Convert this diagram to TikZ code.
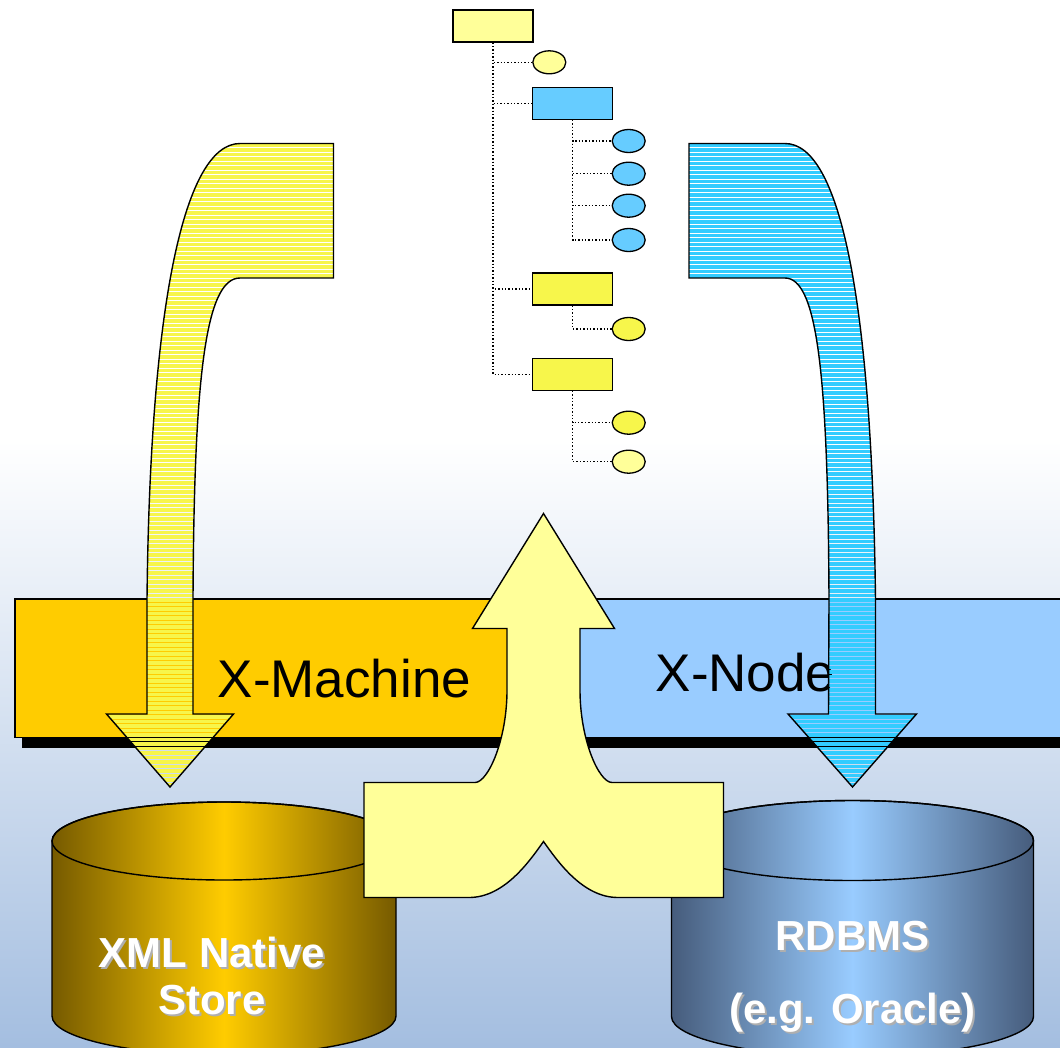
\documentclass[tikz,border=0pt]{standalone}
\usepackage{fontspec}
\setmainfont{Liberation Sans}
\usetikzlibrary{shapes.geometric}

\definecolor{bgbottom}{RGB}{164,190,224}
\definecolor{bandyellow}{RGB}{255,204,0}
\definecolor{bandblue}{RGB}{153,204,255}
\definecolor{paleyellow}{RGB}{255,255,153}
\definecolor{brightyellow}{RGB}{247,246,75}
\definecolor{treeblue}{RGB}{102,204,255}
\definecolor{hatchyellow}{RGB}{247,245,75}
\definecolor{hatchblue}{RGB}{51,204,255}
\definecolor{golddark}{RGB}{118,90,0}
\definecolor{goldmid}{RGB}{255,204,0}
\definecolor{steeldark}{RGB}{70,92,124}
\definecolor{steelmid}{RGB}{153,204,255}
\definecolor{txtshadow}{RGB}{175,175,175}

% white label with a soft grey drop shadow
\newcommand\shadowed[1]{\leavevmode\rlap{\kern2pt\raisebox{-2pt}{\textcolor{txtshadow}{#1}}}\textcolor{white}{#1}}

\begin{document}
\begin{tikzpicture}[x=1pt,y=-1pt,
  outline/.style={draw=black, line width=1.4pt, line join=miter},
  treebox/.style={rectangle, draw=black, line width=1.3pt, minimum width=80pt, minimum height=32pt, inner sep=0pt},
  treeleaf/.style={ellipse, draw=black, line width=1.3pt, minimum width=33pt, minimum height=23pt, inner sep=0pt},
  treelink/.style={dotted, line width=1.4pt},
  bandtext/.style={font=\fontsize{53}{60}\selectfont, inner sep=0pt, anchor=base},
  dbtext/.style={font=\fontsize{42}{48}\selectfont\bfseries, inner sep=0pt, anchor=base},
]
\useasboundingbox (0,0) rectangle (1060,1047);
\clip (0,0) rectangle (1060,1047);

% background
\fill[white] (0,0) rectangle (1060,440);
\shade[top color=white, bottom color=bgbottom] (0,440) rectangle (1060,1047);

% layer band with drop shadow
\fill[black] (22,610) rectangle (1075,747.5);
\draw[outline, fill=bandyellow] (15,599) rectangle (543,737.5);
\draw[outline, fill=bandblue] (543,599) rectangle (1080,737.5);
\node[bandtext] (xmachine) at (344.5,697) {X-Machine};
\node[bandtext] (xnode) at (745.5,691.5) {X-Node};

% hatched bent arrows
\def\leftarrowpath{(147,714) -- (106.5,714) -- (170,787) -- (233.5,714) -- (193,714) -- (193,600)
  .. controls (194,380) and (205,278) .. (240,278) -- (333.5,278) -- (333.5,143.5) -- (240,143.5)
  .. controls (185,143.5) and (150,300) .. (147,600) -- cycle}
\def\rightarrowpath{(828.5,714) -- (788,714) -- (852.5,787) -- (916.5,714) -- (875.5,714) -- (875.5,600)
  .. controls (872,300) and (840,143.5) .. (785,143.5) -- (689,143.5) -- (689,278) -- (785,278)
  .. controls (818,278) and (828,380) .. (829,600) -- cycle}
\begin{scope}
  \clip \leftarrowpath;
  \foreach \k in {0,...,144} {
    \draw[hatchyellow, line width=3.4pt] (90,145.3+4.5*\k) -- (350,145.3+4.5*\k);
  }
\end{scope}
\draw[outline] \leftarrowpath;
\begin{scope}
  \clip \rightarrowpath;
  \foreach \k in {0,...,144} {
    \draw[hatchblue, line width=3.4pt] (680,145.3+4.5*\k) -- (930,145.3+4.5*\k);
  }
\end{scope}
\draw[outline] \rightarrowpath;

% document tree
\node[treebox, fill=paleyellow] (root) at (493,26) {};
\node[treeleaf, fill=paleyellow] (attr) at (549.3,62.3) {};
\node[treebox, fill=treeblue] (elemA) at (572.5,103.2) {};
\node[treeleaf, fill=treeblue] (a1) at (628.7,141) {};
\node[treeleaf, fill=treeblue] (a2) at (628.7,173.7) {};
\node[treeleaf, fill=treeblue] (a3) at (628.7,205.7) {};
\node[treeleaf, fill=treeblue] (a4) at (628.7,240) {};
\node[treebox, fill=brightyellow] (elemB) at (572.5,289) {};
\node[treeleaf, fill=brightyellow] (b1) at (628.7,329) {};
\node[treebox, fill=brightyellow] (elemC) at (572.5,374.2) {};
\node[treeleaf, fill=brightyellow] (c1) at (628.7,422.7) {};
\node[treeleaf, fill=paleyellow] (c2) at (628.7,461.7) {};

\foreach \child in {attr,elemA,elemB,elemC} {
  \draw[treelink] (root.south) |- (\child.west);
}
\foreach \child in {a1,a2,a3,a4} {
  \draw[treelink] (elemA.south) |- (\child.west);
}
\draw[treelink] (elemB.south) |- (b1.west);
\foreach \child in {c1,c2} {
  \draw[treelink] (elemC.south) |- (\child.west);
}

% storage cylinders
\def\goldbody{(52,841) -- (52,1016) .. controls (52,1037.5) and (129,1055) .. (224,1055)
  .. controls (319,1055) and (396,1037.5) .. (396,1016) -- (396,841)
  .. controls (396,819.5) and (319,802) .. (224,802) .. controls (129,802) and (52,819.5) .. (52,841) -- cycle}
\shade[left color=golddark, right color=golddark, middle color=goldmid] \goldbody;
\draw[outline] \goldbody;
\draw[outline] (224,841) ellipse [x radius=172, y radius=39];

\def\steelbody{(671.5,840.5) -- (671.5,1016.5) .. controls (671.5,1038.5) and (752.5,1056.5) .. (852.5,1056.5)
  .. controls (952.5,1056.5) and (1033.5,1038.5) .. (1033.5,1016.5) -- (1033.5,840.5)
  .. controls (1033.5,818.5) and (952.5,800.5) .. (852.5,800.5) .. controls (752.5,800.5) and (671.5,818.5) .. (671.5,840.5) -- cycle}
\shade[left color=steeldark, right color=steeldark, middle color=steelmid] \steelbody;
\draw[outline] \steelbody;
\draw[outline] (852.5,840.5) ellipse [x radius=181, y radius=40];

\node[dbtext] (xmlA) at (212,967.5) {\shadowed{XML Native}};
\node[dbtext] (xmlB) at (212,1014) {\shadowed{Store}};
\node[dbtext] (rdbA) at (852.5,950.5) {\shadowed{RDBMS}};
\node[dbtext] (rdbB) at (852.5,1023.5) {\shadowed{(e.g. Oracle)}};

% merging arrow
\draw[outline, fill=paleyellow] (543.5,513.5) -- (614.5,628.5) -- (580,628.5) -- (580,690)
  .. controls (580,740) and (599,782.5) .. (612,782.5) -- (723.5,782.5) -- (723.5,897.5) -- (618,897.5)
  .. controls (583,897.5) and (558,862) .. (543.5,841.5)
  .. controls (529,862) and (504,897.5) .. (469,897.5) -- (364,897.5) -- (364,782.5) -- (475,782.5)
  .. controls (488,782.5) and (507,740) .. (507,690) -- (507,628.5) -- (472.5,628.5) -- cycle;
\end{tikzpicture}
\end{document}
